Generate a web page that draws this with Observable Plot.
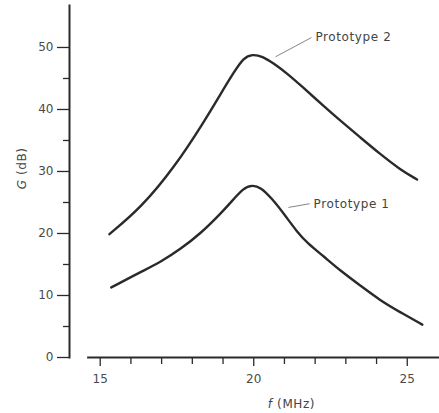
<!DOCTYPE html>
<html><head><meta charset="utf-8">
<script src="https://cdn.jsdelivr.net/npm/d3@7"></script>
<script src="https://cdn.jsdelivr.net/npm/@observablehq/plot@0.6"></script>
<style>body{margin:0;background:#fff} svg{display:block}</style>
</head><body><div id="chart"></div>
<script>
// Prototype 2 (upper curve)
const freq2 = [15.30, 16.34, 17.42, 18.38, 18.92, 19.35, 19.68, 19.95, 20.28, 20.66, 21.09, 21.53, 22.31, 22.82, 23.47, 24.12, 24.77, 25.32];
const gain2 = [19.9, 24.2, 30.7, 38.0, 42.5, 46.0, 48.4, 48.9, 48.6, 47.4, 45.8, 43.9, 40.4, 38.2, 35.5, 32.8, 30.3, 28.7];
// Prototype 1 (lower curve)
const freq1 = [15.36, 16.32, 16.97, 17.62, 18.27, 18.92, 19.25, 19.68, 19.95, 20.22, 20.60, 20.98, 21.42, 21.74, 22.28, 22.82, 23.47, 24.12, 24.77, 25.49];
const gain1 = [11.3, 13.8, 15.4, 17.5, 20.0, 23.2, 25.0, 27.4, 27.8, 27.5, 25.6, 23.2, 20.2, 18.5, 16.3, 14.0, 11.6, 9.2, 7.3, 5.3];
// ticks
const yMajor = [0, 10, 20, 30, 40, 50];
const yMinor = [5, 15, 25, 35, 45];
const xMajor = [15, 20, 25];
const xMinor = [16, 17, 18, 19, 21, 22, 23, 24];
const seriesNames = ["Prototype 2", "Prototype 1"];

const rows = [
  ...freq2.map((f, i) => ({series: seriesNames[0], f, g: gain2[i]})),
  ...freq1.map((f, i) => ({series: seriesNames[1], f, g: gain1[i]}))
];
const notes = [
  {name: seriesNames[0], x1: 20.71, y1: 48.5, x2: 21.88, y2: 51.6},
  {name: seriesNames[1], x1: 21.13, y1: 24.2, x2: 21.82, y2: 24.8}
];

const ink = "#2a2a2a";
const chart = Plot.plot({
  width: 439, height: 413,
  marginLeft: 69, marginRight: 0, marginTop: 5, marginBottom: 56,
  x: {domain: [14, 26.05]},
  y: {domain: [0, 56.77]},
  style: {fontFamily: "DejaVu Sans", fontSize: "12px", color: "#4a4a4a", background: "#fff"},
  marks: [
    Plot.frame({anchor: "left", stroke: ink, strokeWidth: 2}),
    Plot.ruleY([0], {x1: 14.59, x2: 26.05, stroke: ink, strokeWidth: 2}),
    Plot.axisY(yMajor, {tickSize: 12, tickPadding: 4, stroke: ink, strokeWidth: 1.3, label: null}),
    Plot.axisY(yMinor, {tickSize: 6, tickFormat: () => "", stroke: ink, strokeWidth: 1.3, label: null}),
    Plot.axisX(xMajor, {tickSize: 9, tickPadding: 8, stroke: ink, strokeWidth: 1.3, label: null}),
    Plot.axisX(xMinor, {tickSize: 7, tickFormat: () => "", stroke: ink, strokeWidth: 1.3, label: null}),
    Plot.line(rows, {x: "f", y: "g", z: "series", curve: "basis", stroke: ink, strokeWidth: 2.4, strokeLinecap: "round"}),
    Plot.link(notes, {x1: "x1", y1: "y1", x2: "x2", y2: "y2", stroke: "#777", strokeWidth: 0.9}),
    Plot.text(notes, {x: "x2", y: "y2", text: "name", dx: 4, textAnchor: "start", fill: "#444", fontSize: 12}),
    Plot.text(["G (dB)"], {x: 14, y: 30.5, dx: -47, rotate: -90, fill: "#444", fontSize: 12}),
    Plot.text(["f (MHz)"], {x: 21.23, y: 0, dy: 47, fill: "#444", fontSize: 12})
  ]
});
d3.select(chart).selectAll("text").each(function() {
  const t = this.textContent;
  if (t === "G (dB)") this.innerHTML = '<tspan font-style="italic">G</tspan> (dB)';
  if (t === "f (MHz)") this.innerHTML = '<tspan font-style="italic">f</tspan> (MHz)';
});
d3.select(chart).selectAll("g[aria-label='text'] text").attr("letter-spacing", "0.6");
document.getElementById("chart").append(chart);
</script>
</body></html>
